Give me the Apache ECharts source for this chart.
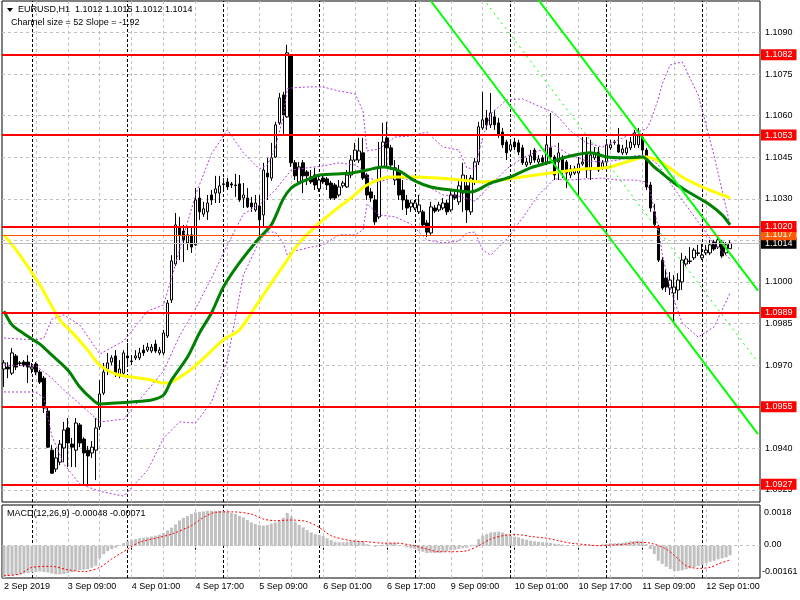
<!DOCTYPE html>
<html><head><meta charset="utf-8">
<script src="https://cdn.jsdelivr.net/npm/echarts@6/dist/echarts.min.js"></script>
<style>html,body{margin:0;padding:0;background:#fff}#c{width:800px;height:600px}</style>
</head><body><div id="c"></div>
<script>
// ---- DATA ----
// candles: [open, close, low, high]
const candles = [
[1.09686,1.09708,1.09621,1.09718],[1.09693,1.09686,1.09653,1.09711],[1.09671,1.09744,1.09664,1.09762],[1.09733,1.09693,1.09682,1.09740],
[1.09708,1.09706,1.09697,1.09715],[1.09711,1.09700,1.09693,1.09718],[1.09711,1.09693,1.09635,1.09736],[1.09686,1.09693,1.09671,1.09708],
[1.09704,1.09675,1.09664,1.09711],[1.09675,1.09639,1.09632,1.09682],[1.09653,1.09545,1.09527,1.09661],[1.09534,1.09404,1.09401,1.09552],
[1.09393,1.09310,1.09307,1.09412],[1.09325,1.09365,1.09314,1.09401],[1.09350,1.09415,1.09339,1.09430],[1.09401,1.09466,1.09350,1.09495],
[1.09473,1.09419,1.09332,1.09509],[1.09415,1.09404,1.09332,1.09437],[1.09393,1.09491,1.09332,1.09509],[1.09484,1.09419,1.09404,1.09491],
[1.09433,1.09383,1.09264,1.09440],[1.09393,1.09372,1.09264,1.09408],[1.09383,1.09404,1.09365,1.09426],[1.09393,1.09473,1.09285,1.09509],
[1.09477,1.09596,1.09466,1.09646],[1.09599,1.09675,1.09592,1.09708],[1.09686,1.09708,1.09664,1.09744],[1.09711,1.09726,1.09700,1.09736],
[1.09733,1.09671,1.09657,1.09754],[1.09664,1.09686,1.09653,1.09718],[1.09671,1.09744,1.09664,1.09754],[1.09733,1.09726,1.09693,1.09780],
[1.09715,1.09713,1.09700,1.09736],[1.09726,1.09733,1.09718,1.09754],[1.09726,1.09744,1.09718,1.09762],[1.09754,1.09744,1.09733,1.09773],
[1.09754,1.09765,1.09747,1.09780],[1.09751,1.09765,1.09744,1.09776],[1.09776,1.09751,1.09744,1.09791],[1.09744,1.09754,1.09736,1.09765],
[1.09744,1.09816,1.09736,1.09827],[1.09805,1.09924,1.09798,1.09935],[1.09935,1.10076,1.09924,1.10097],[1.10065,1.10206,1.10058,1.10249],
[1.10199,1.10170,1.10079,1.10235],[1.10184,1.10152,1.10072,1.10206],[1.10141,1.10170,1.10115,1.10202],[1.10170,1.10126,1.10105,1.10199],
[1.10134,1.10296,1.10130,1.10339],[1.10303,1.10253,1.10224,1.10339],[1.10245,1.10264,1.10235,1.10289],[1.10253,1.10285,1.10224,1.10314],
[1.10314,1.10296,1.10278,1.10332],[1.10321,1.10336,1.10285,1.10383],[1.10321,1.10347,1.10285,1.10383],[1.10354,1.10352,1.10332,1.10375],
[1.10361,1.10343,1.10332,1.10375],[1.10354,1.10350,1.10339,1.10361],[1.10350,1.10348,1.10307,1.10390],[1.10354,1.10296,1.10289,1.10386],
[1.10303,1.10314,1.10267,1.10357],[1.10303,1.10271,1.10267,1.10339],[1.10285,1.10271,1.10253,1.10307],[1.10260,1.10285,1.10253,1.10314],
[1.10274,1.10224,1.10170,1.10314],[1.10242,1.10404,1.10195,1.10430],[1.10393,1.10379,1.10296,1.10448],[1.10375,1.10448,1.10365,1.10502],
[1.10451,1.10567,1.10448,1.10578],[1.10574,1.10664,1.10567,1.10682],[1.10675,1.10603,1.10531,1.10686],[1.10596,1.10827,1.10592,1.10856],
[1.10816,1.10430,1.10415,1.10819],[1.10430,1.10383,1.10368,1.10440],[1.10361,1.10415,1.10350,1.10433],[1.10430,1.10383,1.10321,1.10440],
[1.10397,1.10383,1.10350,1.10404],[1.10379,1.10361,1.10354,1.10404],[1.10386,1.10350,1.10332,1.10412],[1.10336,1.10368,1.10325,1.10386],
[1.10375,1.10361,1.10354,1.10386],[1.10372,1.10350,1.10332,1.10379],[1.10357,1.10303,1.10296,1.10365],[1.10350,1.10303,1.10296,1.10357],
[1.10314,1.10343,1.10307,1.10368],[1.10347,1.10357,1.10339,1.10365],[1.10343,1.10386,1.10339,1.10404],[1.10386,1.10440,1.10375,1.10458],
[1.10440,1.10476,1.10433,1.10502],[1.10440,1.10473,1.10430,1.10520],[1.10466,1.10375,1.10368,1.10520],[1.10386,1.10314,1.10296,1.10393],
[1.10325,1.10303,1.10289,1.10339],[1.10296,1.10217,1.10206,1.10314],[1.10235,1.10412,1.10227,1.10505],[1.10415,1.10505,1.10412,1.10574],
[1.10520,1.10484,1.10415,1.10578],[1.10484,1.10422,1.10404,1.10495],[1.10368,1.10412,1.10350,1.10440],[1.10397,1.10314,1.10296,1.10422],
[1.10332,1.10296,1.10260,1.10368],[1.10296,1.10267,1.10242,1.10314],[1.10271,1.10285,1.10253,1.10296],[1.10267,1.10285,1.10260,1.10296],
[1.10253,1.10278,1.10245,1.10314],[1.10253,1.10206,1.10195,1.10260],[1.10213,1.10180,1.10162,1.10224],[1.10177,1.10271,1.10170,1.10289],
[1.10267,1.10256,1.10249,1.10278],[1.10260,1.10278,1.10253,1.10289],[1.10267,1.10285,1.10260,1.10303],[1.10285,1.10253,1.10242,1.10296],
[1.10260,1.10314,1.10253,1.10332],[1.10314,1.10303,1.10296,1.10332],[1.10289,1.10347,1.10278,1.10368],[1.10321,1.10386,1.10253,1.10430],
[1.10347,1.10260,1.10213,1.10386],[1.10253,1.10375,1.10242,1.10386],[1.10361,1.10433,1.10350,1.10448],[1.10433,1.10560,1.10422,1.10578],
[1.10556,1.10585,1.10549,1.10686],[1.10592,1.10567,1.10549,1.10621],[1.10567,1.10610,1.10556,1.10682],[1.10596,1.10567,1.10549,1.10621],
[1.10574,1.10531,1.10520,1.10592],[1.10541,1.10495,1.10484,1.10556],[1.10505,1.10466,1.10440,1.10513],[1.10476,1.10495,1.10469,1.10513],
[1.10505,1.10487,1.10476,1.10520],[1.10502,1.10469,1.10458,1.10513],[1.10484,1.10430,1.10422,1.10495],[1.10422,1.10433,1.10415,1.10448],
[1.10430,1.10455,1.10422,1.10476],[1.10476,1.10440,1.10430,1.10484],[1.10433,1.10444,1.10426,1.10458],[1.10448,1.10433,1.10422,1.10458],
[1.10433,1.10495,1.10422,1.10531],[1.10484,1.10451,1.10440,1.10610],[1.10451,1.10386,1.10368,1.10458],[1.10433,1.10466,1.10368,1.10502],
[1.10451,1.10404,1.10375,1.10458],[1.10433,1.10393,1.10339,1.10440],[1.10386,1.10408,1.10375,1.10422],[1.10393,1.10408,1.10386,1.10419],
[1.10393,1.10426,1.10314,1.10451],[1.10426,1.10433,1.10419,1.10523],[1.10466,1.10404,1.10375,1.10523],[1.10404,1.10458,1.10368,1.10513],
[1.10448,1.10466,1.10440,1.10487],[1.10469,1.10404,1.10397,1.10487],[1.10412,1.10430,1.10404,1.10440],[1.10433,1.10495,1.10422,1.10513],
[1.10484,1.10495,1.10476,1.10513],[1.10505,1.10504,1.10495,1.10513],[1.10495,1.10469,1.10466,1.10556],[1.10466,1.10480,1.10458,1.10495],
[1.10466,1.10484,1.10458,1.10513],[1.10484,1.10505,1.10476,1.10523],[1.10495,1.10538,1.10484,1.10549],[1.10495,1.10527,1.10484,1.10556],
[1.10523,1.10476,1.10458,1.10538],[1.10476,1.10343,1.10332,1.10484],[1.10350,1.10267,1.10253,1.10361],[1.10253,1.10206,1.10195,1.10282],
[1.10195,1.10079,1.10072,1.10206],[1.10079,1.09978,1.09971,1.10090],[1.10014,1.09982,1.09964,1.10043],[1.09978,1.10007,1.09953,1.10036],
[1.09960,1.09982,1.09852,1.10025],[1.09971,1.10007,1.09935,1.10032],[1.10000,1.10079,1.09971,1.10105],[1.10065,1.10083,1.10058,1.10094],
[1.10076,1.10074,1.10065,1.10126],[1.10087,1.10115,1.10079,1.10123],[1.10105,1.10103,1.10094,1.10134],[1.10087,1.10097,1.10079,1.10141],
[1.10105,1.10115,1.10097,1.10134],[1.10105,1.10134,1.10097,1.10152],[1.10144,1.10119,1.10112,1.10152],[1.10126,1.10152,1.10119,1.10159],
[1.10144,1.10094,1.10087,1.10152],[1.10105,1.10134,1.10097,1.10144],[1.1012,1.1014,1.1012,1.1015]
];
// moving averages: [barIndex, price]
const maGreen = [[0,1.09895],[2,1.09845],[4,1.09823],[7,1.09794],[9,1.09776],[12,1.09736],[16,1.09682],[19,1.09621],[22,1.09578],[24,1.09560],[28,1.09563],[32,1.09567],[37,1.09574],[40,1.09592],[42,1.09646],[46,1.09729],[49,1.09816],[52,1.09888],[55,1.09982],[59,1.10069],[64,1.10159],[67,1.10206],[70,1.10300],[72,1.10339],[74,1.10357],[77,1.10375],[79,1.10386],[87,1.10393],[91,1.10404],[95,1.10415],[99,1.10401],[103,1.10365],[107,1.10343],[112,1.10332],[117,1.10325],[122,1.10357],[127,1.10379],[132,1.10412],[137,1.10433],[141,1.10451],[147,1.10466],[151,1.10451],[156,1.10448],[160,1.10451],[163,1.10415],[168,1.10357],[172,1.10321],[177,1.10278],[180,1.10242],[182,1.10206]];
const maYellow = [[0,1.10170],[4,1.10097],[9,1.09989],[14,1.09863],[17,1.09819],[21,1.09754],[24,1.09700],[28,1.09668],[32,1.09657],[37,1.09646],[40,1.09635],[42,1.09639],[46,1.09675],[49,1.09711],[55,1.09791],[59,1.09827],[63,1.09910],[67,1.09996],[71,1.10079],[74,1.10141],[78,1.10199],[84,1.10271],[87,1.10303],[91,1.10350],[97,1.10379],[103,1.10379],[112,1.10372],[120,1.10361],[128,1.10375],[137,1.10393],[145,1.10408],[151,1.10412],[156,1.10433],[161,1.10451],[165,1.10430],[170,1.10379],[175,1.10343],[182,1.10303]];
// Bollinger bands (dotted purple): [barIndex, price]
const bbUpper = [[0,1.09798],[4,1.09794],[8,1.09791],[10,1.09798],[12,1.09866],[15,1.09881],[19,1.09845],[24,1.09740],[30,1.09787],[36,1.09895],[40,1.09917],[44,1.10115],[48,1.10314],[52,1.10462],[56,1.10549],[60,1.10466],[64,1.10408],[66,1.10422],[68,1.10484],[70,1.10596],[71,1.10697],[72,1.10700],[76,1.10704],[80,1.10704],[84,1.10689],[88,1.10679],[90,1.10617],[91,1.10473],[94,1.10480],[98,1.10523],[102,1.10527],[106,1.10541],[110,1.10487],[114,1.10476],[116,1.10412],[118,1.10408],[120,1.10523],[122,1.10606],[126,1.10657],[130,1.10661],[134,1.10635],[138,1.10610],[142,1.10545],[146,1.10502],[150,1.10487],[154,1.10513],[158,1.10538],[161,1.10552],[162,1.10578],[164,1.10660],[165,1.10715],[167,1.10783],[170,1.10794],[174,1.10675],[178,1.10455],[182,1.10206]];
const bbMiddle = [[0,1.09700],[8,1.09697],[12,1.09653],[15,1.09610],[19,1.09560],[24,1.09495],[30,1.09505],[36,1.09610],[40,1.09679],[44,1.09805],[48,1.09903],[52,1.10014],[56,1.10134],[60,1.10245],[64,1.10278],[68,1.10332],[72,1.10404],[76,1.10412],[80,1.10419],[84,1.10430],[88,1.10422],[90,1.10404],[91,1.10379],[94,1.10361],[98,1.10379],[102,1.10368],[106,1.10347],[110,1.10314],[114,1.10310],[118,1.10292],[122,1.10350],[126,1.10408],[130,1.10448],[134,1.10473],[138,1.10491],[142,1.10458],[146,1.10437],[150,1.10433],[154,1.10440],[158,1.10455],[161,1.10458],[164,1.10422],[167,1.10357],[170,1.10296],[174,1.10217],[178,1.10137],[182,1.10083]];
const bbLower = [[0,1.09603],[4,1.09603],[8,1.09603],[10,1.09581],[12,1.09444],[15,1.09343],[19,1.09271],[24,1.09245],[30,1.09227],[36,1.09321],[40,1.09437],[44,1.09495],[48,1.09491],[52,1.09567],[56,1.09718],[60,1.10025],[64,1.10148],[66,1.10180],[68,1.10180],[70,1.10141],[71,1.10097],[72,1.10108],[76,1.10123],[80,1.10134],[84,1.10170],[88,1.10170],[90,1.10188],[91,1.10282],[94,1.10242],[98,1.10235],[102,1.10209],[106,1.10152],[110,1.10141],[114,1.10148],[116,1.10177],[118,1.10180],[120,1.10115],[122,1.10097],[126,1.10155],[130,1.10231],[134,1.10314],[138,1.10372],[142,1.10368],[146,1.10372],[150,1.10375],[154,1.10368],[158,1.10368],[161,1.10361],[162,1.10325],[164,1.10195],[165,1.10101],[167,1.09975],[170,1.09852],[174,1.09801],[178,1.09838],[182,1.09960]];
// regression channel lines: [barIndex, price]
const channelUpper = [[134,1.11017],[189,1.09969]];
const channelMiddle = [[121,1.11006],[189,1.09710]];
const channelLower = [[107,1.11014],[189,1.09451]];
// horizontal levels
const levelPrices = [1.1082, 1.1053, 1.1020, 1.0989, 1.0955, 1.0927];
const orderPrice = 1.1017;
const bidPrice = 1.1014;
const priceTicks = [1.1090, 1.1075, 1.1060, 1.1045, 1.1030, 1.1015, 1.1000, 1.0985, 1.0970, 1.0955, 1.0940, 1.0925];
// MACD
const macdHist = [
-0.00161,-0.00151,-0.00149,-0.00146,-0.00143,-0.00139,-0.00136,-0.00133,-0.00131,-0.00129,-0.00131,-0.00134,-0.00139,-0.00143,-0.00143,-0.00141,
-0.00138,-0.00131,-0.00125,-0.00121,-0.00120,-0.00116,-0.00110,-0.00100,-0.00063,-0.00042,-0.00027,-0.00017,-0.00010,0.00003,0.00013,0.00023,
0.00028,0.00033,0.00037,0.00040,0.00043,0.00046,0.00050,0.00055,0.00063,0.00076,0.00090,0.00106,0.00126,0.00139,0.00148,0.00158,
0.00166,0.00169,0.00171,0.00174,0.00174,0.00174,0.00174,0.00173,0.00169,0.00164,0.00158,0.00149,0.00141,0.00128,0.00116,0.00108,
0.00103,0.00100,0.00103,0.00110,0.00116,0.00125,0.00139,0.00163,0.00146,0.00120,0.00103,0.00091,0.00078,0.00066,0.00058,0.00053,
0.00048,0.00037,0.00028,0.00020,0.00017,0.00017,0.00020,0.00023,0.00025,0.00023,0.00020,0.00008,0.00000,-0.00005,0.00002,0.00005,
0.00013,0.00015,0.00015,0.00000,-0.00003,-0.00008,-0.00013,-0.00017,-0.00025,-0.00030,-0.00037,-0.00035,-0.00037,-0.00035,-0.00033,-0.00027,
-0.00023,-0.00020,-0.00017,-0.00013,-0.00010,-0.00003,0.00003,0.00033,0.00050,0.00058,0.00066,0.00068,0.00070,0.00066,0.00058,0.00050,
0.00045,0.00042,0.00035,0.00030,0.00025,0.00022,0.00020,0.00018,0.00017,0.00013,0.00010,0.00008,0.00005,0.00002,0.00000,0.00000,
-0.00002,-0.00002,0.00000,0.00002,0.00003,0.00003,0.00007,0.00008,0.00012,0.00012,0.00013,0.00015,0.00017,0.00022,0.00023,0.00023,
0.00020,0.00008,-0.00017,-0.00042,-0.00075,-0.00091,-0.00105,-0.00116,-0.00125,-0.00126,-0.00123,-0.00118,-0.00113,-0.00108,-0.00101,-0.00096,
-0.00086,-0.00080,-0.00075,-0.00068,-0.00063,-0.00058,-0.00048
];
const macdSignal = [[0,-0.00149],[4,-0.00141],[7,-0.00108],[12,-0.00103],[16,-0.00120],[20,-0.00129],[24,-0.00108],[27,-0.00066],[31,-0.00017],[34,0.00017],[39,0.00042],[42,0.00058],[47,0.00100],[50,0.00141],[53,0.00166],[57,0.00169],[62,0.00158],[65,0.00133],[68,0.00125],[72,0.00128],[76,0.00120],[79,0.00091],[82,0.00050],[87,0.00025],[91,0.00020],[95,0.00013],[98,0.00013],[102,0.00003],[106,-0.00017],[109,-0.00030],[112,-0.00030],[116,-0.00025],[119,0],[122,0.00033],[126,0.00053],[129,0.00055],[132,0.00046],[136,0.00037],[139,0.00025],[142,0.00013],[146,0.00005],[149,0],[152,0.00003],[156,0.00008],[159,0.00017],[162,0.00013],[166,-0.00017],[169,-0.00066],[171,-0.00100],[174,-0.00113],[177,-0.00108],[179,-0.00091],[182,-0.00071]];
const macdScaleLabels = ['0.0018', '0.00', '-0.00161'];
const titleText = 'EURUSD,H1  1.1012 1.1015 1.1012 1.1014';
const channelText = 'Channel size = 52 Slope = -1.92';
const macdText = 'MACD(12,26,9) -0.00048 -0.00071';

// ---- CATEGORIES (hourly bars, weekends skipped) ----
const MONTHS = ['Jan','Feb','Mar','Apr','May','Jun','Jul','Aug','Sep','Oct','Nov','Dec'];
const NCAT = 190;
const cats = [];
let t = Date.UTC(2019, 8, 2, 17);
while (cats.length < NCAT) {
  const d = new Date(t);
  const wd = d.getUTCDay();
  if (wd !== 0 && wd !== 6) {
    const hh = String(d.getUTCHours()).padStart(2, '0');
    cats.push(cats.length === 0 ? d.getUTCDate() + ' ' + MONTHS[d.getUTCMonth()] + ' ' + d.getUTCFullYear()
                                : d.getUTCDate() + ' ' + MONTHS[d.getUTCMonth()] + ' ' + hh + ':00');
  }
  t += 3600000;
}
const daySeps = [];
const gridIdx = [];
for (let i = 0; i < NCAT; i++) {
  if (/ 00:00$/.test(cats[i])) daySeps.push(i);
  if (i > 0 && i % 8 === 0) gridIdx.push(i);
}

// ---- STYLE ----
const FONT = 'Liberation Sans';
const GRID_LINE = { color: '#c0c0c0', type: [3, 3], width: 1 };
const SEP_LINE = { color: '#000', type: [3, 2], width: 1 };
const BB_LINE = { color: '#b03ce0', width: 1, type: [2, 2] };
const L = 2, R = 40;

const chart = echarts.init(document.getElementById('c'), null, { renderer: 'canvas' });

const vLines = gridIdx.map(i => ({ xAxis: i, lineStyle: GRID_LINE, label: { show: false } }))
  .concat(daySeps.map(i => ({ xAxis: i, lineStyle: SEP_LINE, label: { show: false } })));

const hGrid = priceTicks.map(p => ({
  yAxis: p, lineStyle: GRID_LINE,
  label: { show: true, position: 'end', distance: 5, formatter: p.toFixed(4), color: '#000', fontSize: 9, fontFamily: FONT }
}));

function boxLabel(p, bg) {
  return { show: true, position: 'end', distance: 1, formatter: p.toFixed(4), color: '#fff', backgroundColor: bg,
           padding: [1, 4, 0, 4], fontSize: 9, lineHeight: 10, fontFamily: FONT };
}
function ml(data, z) {
  return { silent: true, symbol: ['none', 'none'], precision: 6, z: z, animation: false, data: data };
}
function line(data, style, z, smooth) {
  return { type: 'line', xAxisIndex: 0, yAxisIndex: 0, data: data, showSymbol: false, smooth: smooth || false, z: z, silent: true, lineStyle: style };
}

const option = {
  animation: false,
  backgroundColor: '#fff',
  grid: [
    { left: L, right: R, top: 1, height: 501, show: true, borderColor: '#000', borderWidth: 1, backgroundColor: 'transparent' },
    { left: L, right: R, top: 505, height: 73, show: true, borderColor: '#000', borderWidth: 1, backgroundColor: 'transparent' }
  ],
  xAxis: [
    { type: 'category', gridIndex: 0, data: cats, boundaryGap: true, show: false },
    { type: 'category', gridIndex: 1, data: cats, boundaryGap: true,
      axisLine: { show: false },
      axisTick: { show: true, alignWithLabel: true, length: 4, interval: (i) => i % 16 === 0, lineStyle: { color: '#000' } },
      axisLabel: { show: true, interval: (i) => i % 16 === 0, align: 'left', margin: 4, color: '#000', fontSize: 9, fontFamily: FONT },
      splitLine: { show: false } }
  ],
  yAxis: [
    { type: 'value', gridIndex: 0, min: 1.09206, max: 1.11014, show: false, splitLine: { show: false } },
    { type: 'value', gridIndex: 1, min: -0.00161, max: 0.00203, show: false, splitLine: { show: false } }
  ],
  series: [
    // grid lines main panel
    { type: 'line', xAxisIndex: 0, yAxisIndex: 0, data: [], silent: true, z: 1, markLine: ml(vLines.concat(hGrid), 1) },
    // grid lines MACD panel
    { type: 'line', xAxisIndex: 1, yAxisIndex: 1, data: [], silent: true, z: 1,
      markLine: ml(vLines.concat([{ yAxis: 0, lineStyle: GRID_LINE, label: { show: false } }]), 1) },
    // candles
    { type: 'candlestick', xAxisIndex: 0, yAxisIndex: 0, data: candles, barWidth: 3, z: 3, silent: true,
      itemStyle: { color: '#ffffff', color0: '#000000', borderColor: '#000000', borderColor0: '#000000', borderWidth: 1 } },
    // Bollinger bands
    line(bbUpper, BB_LINE, 4), line(bbMiddle, BB_LINE, 4), line(bbLower, BB_LINE, 4),
    // moving averages
    line(maYellow, { color: '#ffff00', width: 3 }, 5, 0.3),
    line(maGreen, { color: '#008000', width: 3 }, 5, 0.3),
    // channel
    line(channelUpper, { color: '#00ff00', width: 2 }, 5),
    line(channelLower, { color: '#00ff00', width: 2 }, 5),
    line(channelMiddle, { color: '#00ff00', width: 1, type: [2, 4] }, 5),
    // levels
    { type: 'line', xAxisIndex: 0, yAxisIndex: 0, data: [], silent: true, z: 6,
      markLine: ml([
          { yAxis: bidPrice, lineStyle: { color: '#c0c0c0', width: 1, type: 'solid' }, label: boxLabel(bidPrice, '#000000') },
          { yAxis: orderPrice, lineStyle: { color: '#ff5000', width: 1, type: 'solid' }, label: boxLabel(orderPrice, '#ff5a00') }
        ].concat(levelPrices.map(p => ({ yAxis: p, lineStyle: { color: '#ff0000', width: 2, type: 'solid' }, label: boxLabel(p, '#ff0000') }))), 6) },
    // black bid label on top
    { type: 'line', xAxisIndex: 0, yAxisIndex: 0, data: [], silent: true, z: 7,
      markLine: ml([{ yAxis: bidPrice, lineStyle: { color: '#c0c0c0', width: 1, opacity: 0 }, label: boxLabel(bidPrice, '#000000') }], 7) },
    // MACD histogram
    { type: 'bar', xAxisIndex: 1, yAxisIndex: 1, data: macdHist, barWidth: 3, itemStyle: { color: '#c0c0c0' }, z: 3, silent: true },
    // MACD signal
    { type: 'line', xAxisIndex: 1, yAxisIndex: 1, data: macdSignal, showSymbol: false, smooth: 0.3, z: 4, silent: true,
      lineStyle: { color: '#ff0000', width: 1, type: [2, 2] } }
  ],
  graphic: [
    { type: 'polygon', shape: { points: [[7, 8], [13, 8], [10, 12]] }, style: { fill: '#000' }, z: 100 },
    { type: 'text', left: 18, top: 5, z: 100, style: { text: titleText, font: '9px "' + FONT + '"', fill: '#000' } },
    { type: 'text', left: 11, top: 18, z: 100, style: { text: channelText, font: '9px "' + FONT + '"', fill: '#000' } },
    { type: 'text', left: 7, top: 509, z: 100, style: { text: macdText, font: '9px "' + FONT + '"', fill: '#000' } },
    { type: 'text', left: 764, top: 508, z: 100, style: { text: macdScaleLabels[0], font: '9px "' + FONT + '"', fill: '#000' } },
    { type: 'text', left: 764, top: 540, z: 100, style: { text: macdScaleLabels[1], font: '9px "' + FONT + '"', fill: '#000' } },
    { type: 'text', left: 762, top: 567, z: 100, style: { text: macdScaleLabels[2], font: '9px "' + FONT + '"', fill: '#000' } }
  ]
};
chart.setOption(option);
</script>
</body></html>
